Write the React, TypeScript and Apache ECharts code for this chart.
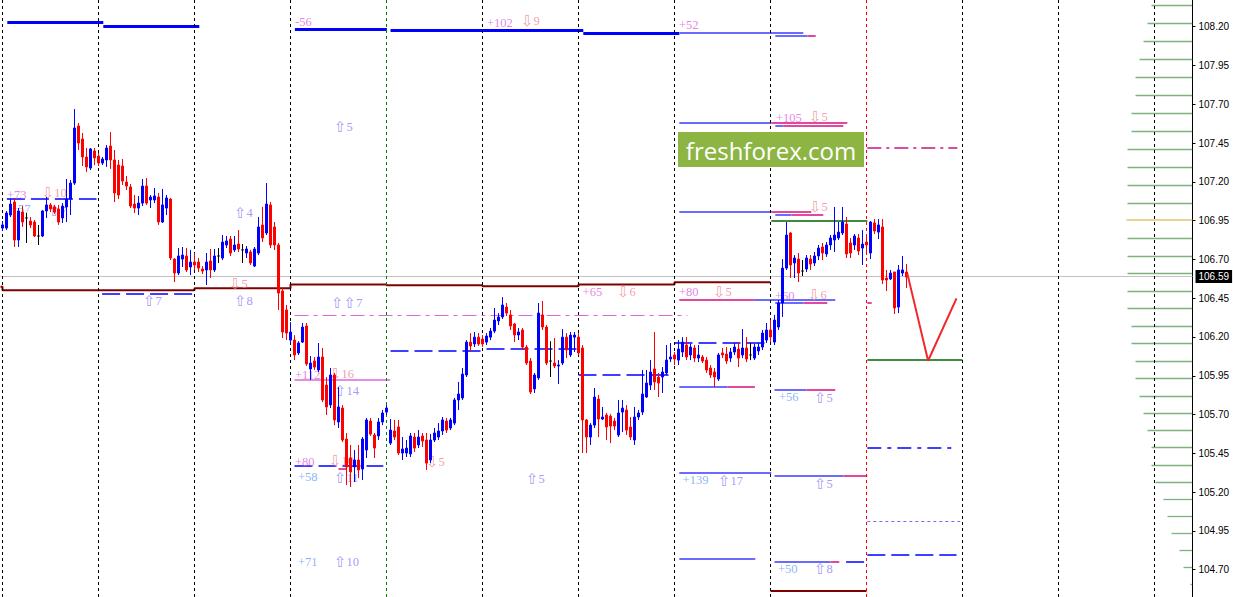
import { useEffect, useRef } from "react";
import * as echarts from "echarts";

// ---------- DATA ----------
const slotCount = 298;
const categories = Array.from({ length: slotCount }, (_, i) => String(i));

const priceTicks = [104.7, 104.95, 105.2, 105.45, 105.7, 105.95, 106.2, 106.45, 106.7, 106.95, 107.2, 107.45, 107.7, 107.95, 108.2];
const yMin = 104.524;
const yMax = 108.372;
const lastPrice = 106.59;

// [open, close, low, high]
const candles = [
  [106.902, 106.922, 106.883, 106.947], [106.902, 106.999, 106.889, 107.012], [106.986, 107.057, 106.973, 107.089], [107.070, 106.825, 106.780, 107.096],
  [106.825, 107.012, 106.780, 107.031], [107.005, 106.941, 106.909, 107.044], [106.967, 106.967, 106.806, 106.999], [106.947, 106.922, 106.902, 106.973],
  [106.941, 106.851, 106.844, 106.954], [106.851, 106.851, 106.793, 106.922], [106.851, 107.012, 106.844, 107.018], [107.012, 107.051, 106.967, 107.102],
  [107.051, 107.025, 107.005, 107.063], [107.038, 107.005, 106.993, 107.051], [107.025, 106.941, 106.922, 107.051], [106.967, 107.044, 106.935, 107.063],
  [107.038, 107.089, 106.941, 107.218], [107.089, 107.192, 106.986, 107.212], [107.192, 107.547, 107.180, 107.669], [107.560, 107.450, 107.405, 107.579],
  [107.476, 107.360, 107.302, 107.515], [107.360, 107.296, 107.263, 107.418], [107.289, 107.412, 107.276, 107.418], [107.399, 107.354, 107.308, 107.418],
  [107.366, 107.321, 107.302, 107.386], [107.321, 107.347, 107.308, 107.360], [107.341, 107.418, 107.296, 107.437], [107.431, 107.341, 107.283, 107.521],
  [107.341, 107.128, 107.070, 107.405], [107.308, 107.115, 107.089, 107.341], [107.302, 107.205, 107.180, 107.347], [107.199, 107.173, 107.147, 107.238],
  [107.167, 107.044, 107.031, 107.186], [107.057, 107.031, 106.999, 107.115], [107.031, 107.063, 106.986, 107.109], [107.063, 107.173, 107.044, 107.218],
  [107.173, 107.063, 107.051, 107.225], [107.083, 107.102, 107.031, 107.115], [107.083, 107.109, 107.063, 107.160], [107.102, 106.941, 106.922, 107.128],
  [106.941, 107.051, 106.935, 107.154], [107.031, 107.096, 106.986, 107.115], [107.089, 106.709, 106.696, 107.096], [106.702, 106.612, 106.554, 106.709],
  [106.612, 106.722, 106.599, 106.773], [106.702, 106.728, 106.651, 106.780], [106.722, 106.632, 106.619, 106.773], [106.651, 106.683, 106.599, 106.761],
  [106.683, 106.664, 106.632, 106.741], [106.683, 106.644, 106.619, 106.709], [106.638, 106.625, 106.606, 106.657], [106.632, 106.683, 106.535, 106.741],
  [106.690, 106.632, 106.580, 106.767], [106.632, 106.722, 106.619, 106.767], [106.722, 106.722, 106.677, 106.773], [106.709, 106.812, 106.696, 106.857],
  [106.793, 106.819, 106.773, 106.851], [106.831, 106.741, 106.722, 106.851], [106.761, 106.793, 106.748, 106.851], [106.799, 106.767, 106.748, 106.889],
  [106.761, 106.761, 106.677, 106.799], [106.741, 106.767, 106.709, 106.786], [106.748, 106.677, 106.664, 106.761], [106.657, 106.767, 106.651, 106.780],
  [106.741, 106.909, 106.728, 106.973], [106.922, 106.838, 106.812, 107.038], [106.870, 107.057, 106.857, 107.192], [107.051, 106.793, 106.773, 107.070],
  [106.909, 106.793, 106.761, 106.941], [106.793, 106.483, 106.374, 106.806], [106.496, 106.232, 106.193, 106.516], [106.374, 106.225, 106.180, 106.406],
  [106.180, 106.232, 106.161, 106.296], [106.180, 106.084, 106.051, 106.212], [106.097, 106.161, 106.084, 106.173], [106.167, 106.264, 106.161, 106.290],
  [106.271, 106.026, 106.013, 106.290], [105.994, 106.032, 105.923, 106.077], [106.045, 106.006, 105.987, 106.071], [105.987, 106.071, 105.974, 106.161],
  [106.071, 105.794, 105.781, 106.129], [105.890, 105.749, 105.697, 105.942], [105.762, 105.955, 105.742, 106.000], [105.955, 105.665, 105.632, 105.968],
  [105.652, 105.749, 105.613, 105.877], [105.742, 105.536, 105.523, 105.761], [105.542, 105.362, 105.246, 105.581], [105.420, 105.330, 105.233, 105.504],
  [105.362, 105.407, 105.265, 105.471], [105.407, 105.343, 105.291, 105.504], [105.349, 105.542, 105.278, 105.555], [105.471, 105.665, 105.420, 105.678],
  [105.658, 105.574, 105.562, 105.678], [105.568, 105.484, 105.420, 105.581], [105.562, 105.652, 105.536, 105.678], [105.652, 105.710, 105.632, 105.729],
  [105.716, 105.742, 105.697, 105.761], [105.516, 105.600, 105.504, 105.671], [105.594, 105.555, 105.536, 105.665], [105.620, 105.452, 105.439, 105.665],
  [105.452, 105.478, 105.407, 105.555], [105.452, 105.484, 105.426, 105.536], [105.446, 105.562, 105.426, 105.581], [105.555, 105.484, 105.459, 105.581],
  [105.504, 105.555, 105.484, 105.600], [105.562, 105.529, 105.491, 105.581], [105.536, 105.387, 105.343, 105.581], [105.407, 105.536, 105.387, 105.575],
  [105.536, 105.581, 105.523, 105.613], [105.555, 105.594, 105.536, 105.645], [105.594, 105.665, 105.568, 105.684], [105.658, 105.600, 105.581, 105.678],
  [105.613, 105.665, 105.600, 105.678], [105.645, 105.794, 105.632, 105.807], [105.794, 105.832, 105.729, 105.910], [105.807, 105.961, 105.794, 106.000],
  [105.955, 106.167, 105.942, 106.180], [106.167, 106.142, 106.103, 106.225], [106.155, 106.199, 106.135, 106.232], [106.199, 106.155, 106.142, 106.225],
  [106.187, 106.155, 106.135, 106.212], [106.167, 106.206, 106.148, 106.225], [106.199, 106.238, 106.180, 106.258], [106.238, 106.309, 106.225, 106.387],
  [106.303, 106.329, 106.277, 106.354], [106.329, 106.406, 106.316, 106.457], [106.393, 106.354, 106.335, 106.419], [106.342, 106.271, 106.245, 106.374],
  [106.284, 106.213, 106.167, 106.290], [106.213, 106.232, 106.180, 106.258], [106.245, 106.135, 106.116, 106.258], [106.135, 106.032, 106.019, 106.148],
  [106.045, 105.845, 105.832, 106.064], [105.865, 105.955, 105.839, 105.968], [105.936, 106.354, 105.923, 106.419], [106.342, 106.264, 106.245, 106.432],
  [106.264, 106.032, 106.019, 106.277], [106.045, 106.045, 105.942, 106.173], [106.032, 106.013, 106.000, 106.193], [106.013, 106.019, 105.897, 106.051],
  [106.032, 106.199, 106.019, 106.251], [106.199, 106.116, 106.064, 106.225], [106.084, 106.212, 106.071, 106.232], [106.199, 106.212, 106.103, 106.232],
  [106.199, 106.097, 106.084, 106.225], [106.129, 105.665, 105.452, 106.148], [105.665, 105.555, 105.452, 105.671], [105.555, 105.632, 105.504, 105.645],
  [105.632, 105.813, 105.613, 105.871], [105.800, 105.671, 105.555, 105.826], [105.671, 105.684, 105.665, 105.749], [105.697, 105.620, 105.536, 105.710],
  [105.690, 105.626, 105.516, 105.703], [105.658, 105.626, 105.600, 105.678], [105.568, 105.710, 105.555, 105.794], [105.716, 105.742, 105.587, 105.794],
  [105.729, 105.600, 105.568, 105.761], [105.620, 105.555, 105.536, 105.684], [105.536, 105.684, 105.504, 105.749], [105.684, 105.710, 105.665, 105.729],
  [105.716, 105.832, 105.697, 105.987], [105.813, 105.903, 105.807, 105.987], [105.890, 105.974, 105.858, 106.051], [105.994, 105.910, 105.858, 106.232],
  [105.942, 105.903, 105.813, 105.968], [105.942, 105.974, 105.839, 106.006], [105.968, 106.051, 105.955, 106.148], [106.058, 106.071, 106.038, 106.161],
  [106.084, 106.058, 106.019, 106.103], [106.051, 106.122, 106.019, 106.180], [106.103, 106.167, 106.071, 106.199], [106.148, 106.071, 106.051, 106.199],
  [106.084, 106.135, 106.051, 106.155], [106.129, 106.064, 106.038, 106.148], [106.064, 106.084, 106.038, 106.148], [106.071, 106.045, 106.032, 106.084],
  [106.051, 105.987, 105.968, 106.071], [106.000, 105.955, 105.936, 106.019], [105.974, 105.942, 105.877, 106.000], [105.929, 106.084, 105.916, 106.097],
  [106.097, 106.084, 106.064, 106.129], [106.090, 106.045, 106.026, 106.135], [106.064, 106.103, 106.038, 106.129], [106.103, 106.135, 106.084, 106.161],
  [106.122, 106.064, 106.006, 106.167], [106.084, 106.129, 106.064, 106.251], [106.129, 106.058, 106.038, 106.199], [106.084, 106.084, 106.051, 106.161],
  [106.064, 106.135, 106.051, 106.155], [106.110, 106.135, 106.084, 106.161], [106.135, 106.225, 106.116, 106.245], [106.180, 106.245, 106.161, 106.290],
  [106.245, 106.200, 106.167, 106.309], [106.167, 106.309, 106.148, 106.342], [106.264, 106.419, 106.245, 106.438], [106.419, 106.644, 106.329, 106.702],
  [106.644, 106.857, 106.632, 106.941], [106.870, 106.664, 106.580, 106.876], [106.677, 106.709, 106.580, 106.728], [106.702, 106.612, 106.554, 106.741],
  [106.625, 106.625, 106.593, 106.696], [106.638, 106.709, 106.619, 106.728], [106.702, 106.670, 106.632, 106.728], [106.677, 106.722, 106.657, 106.748],
  [106.722, 106.773, 106.696, 106.793], [106.780, 106.741, 106.696, 106.806], [106.735, 106.793, 106.716, 106.812], [106.793, 106.838, 106.761, 106.857],
  [106.825, 106.857, 106.748, 107.038], [106.838, 106.876, 106.825, 106.941], [106.870, 106.941, 106.857, 107.038], [106.928, 106.735, 106.709, 106.973],
  [106.806, 106.741, 106.709, 106.838], [106.793, 106.851, 106.761, 106.864], [106.838, 106.754, 106.728, 106.864], [106.773, 106.799, 106.664, 106.889],
  [106.812, 106.793, 106.741, 106.857], [106.741, 106.941, 106.702, 106.947], [106.935, 106.883, 106.864, 106.960], [106.876, 106.922, 106.831, 106.960],
  [106.909, 106.567, 106.541, 106.960], [106.580, 106.567, 106.496, 106.632], [106.574, 106.612, 106.567, 106.632], [106.619, 106.387, 106.348, 106.619],
  [106.393, 106.632, 106.354, 106.664], [106.612, 106.632, 106.593, 106.722], [106.619, 106.586, 106.516, 106.670],
];

const daySeparators = [0, 24, 48, 72, 96, 120, 144, 168, 192, 216, 240, 264, 288];
const greenSeparator = 96;
const redSeparator = 216;

// [startIndex, endIndex, price]
const thickBlueLevels = [[1.2, 25.2, 108.226], [25.2, 49.2, 108.206], [73.1, 96.1, 108.185], [97, 145.2, 108.179], [145.2, 169.2, 108.159]];
const lightBlueLevels = [
  [169.2, 200.2, 108.159], [193.2, 201.3, 108.14], [169.2, 192.2, 107.581], [193.2, 195.2, 107.562],
  [169.2, 192.2, 107.007], [193.2, 197.2, 106.988], [188.1, 208.2, 106.438], [193.2, 200.3, 106.421],
  [169.2, 181.2, 105.879], [193, 201, 105.86], [169.2, 192.2, 105.325], [193, 210.2, 105.306],
  [169.2, 188.2, 104.773], [193, 207, 104.751],
];
const pinkLevels = [
  [201.3, 203.3, 108.14], [192.2, 211.2, 107.581], [195.2, 210.2, 107.562], [192.2, 202.2, 107.007],
  [197.2, 205.2, 106.988], [169.2, 188.1, 106.438], [200.3, 206.2, 106.421], [216.2, 217.3, 106.421],
  [181.2, 188.1, 105.879], [201, 208.2, 105.86], [210.2, 216.2, 105.306], [207, 209.2, 104.751], [84, 86, 105.351],
];
const blueDashedLevels = [
  [1.1, 23.5, 107.089], [24.9, 47.4, 106.477], [73, 95.2, 105.373], [97, 119.5, 106.11], [121, 144, 106.121],
  [144, 168, 105.959], [168, 192, 106.161], [216.2, 238.5, 104.799], [210.9, 215.5, 104.754],
];
const blueDashDotLevels = [[216.2, 238.5, 105.484]];
const violetDashDotLevels = [[73, 171.2, 106.342]];
const violetSolidLevels = [[73, 96.9, 105.923]];
const magentaDashDotLevels = [[216.2, 238.7, 107.422]];
const purpleDottedLevels = [[216.2, 240, 105.014]];
const greenLevels = [[192.2, 216.2, 106.952], [216.2, 240, 106.056]];
const maroonSteps = [[-0.5, 106.524], [0, 106.501], [48, 106.514], [72, 106.539], [96, 106.533], [120, 106.527], [144, 106.539], [168, 106.552], [192, 106.552]];
const maroonLevels = [[192, 216, 104.567]];

const forecastPath = [[226.2, 106.61], [231.4, 106.047], [238.5, 106.449]];

const profilePrices = [108.338, 108.222, 108.106, 107.99, 107.874, 107.758, 107.642, 107.526, 107.41, 107.294, 107.178, 107.062, 106.954, 106.836, 106.72, 106.608, 106.492, 106.387, 106.271, 106.159, 106.043, 105.934, 105.818, 105.708, 105.598, 105.491, 105.375, 105.263, 105.154, 105.044, 104.934, 104.827, 104.715, 104.606];
const profileCounts = [10.25, 11.25, 12.25, 13.25, 14.25, 14.25, 15.25, 15.25, 16.25, 16.25, 16.25, 16.25, 16.5, 16.25, 16.25, 16.25, 16.25, 16.25, 15.25, 15.25, 14.25, 14.25, 13.25, 12.25, 11.25, 10.25, 10.25, 9.25, 7.25, 6.25, 5.25, 3.25, 2.25, 0.5];
const profilePeak = 12;

// [index, price, text]
const violetLabels: [number, number, string][] = [
  [1, 107.118, "+73"], [73, 108.233, "-56"], [121, 108.224, "+102"], [169, 108.208, "+52"], [193.25, 107.611, "+105"],
  [144.9, 106.487, "+65"], [169, 106.49, "+80"], [193, 106.464, "+60"], [73, 105.952, "+112"], [73, 105.397, "+80"],
];
const salmonLabels: [number, number, string][] = [
  [9.7, 107.128, "⇩10"], [129.5, 108.237, "⇩9"], [201.5, 107.618, "⇩5"], [201.5, 107.038, "⇩5"], [56.5, 106.541, "⇩5"],
  [153.5, 106.49, "⇩6"], [177.5, 106.49, "⇩5"], [201.25, 106.47, "⇩6"], [81.5, 105.96, "⇩16"], [81.5, 105.4, "⇩10"], [105.75, 105.394, "⇩5"],
];
const skyLabels: [number, number, string][] = [
  [2, 107.025, "+57"], [73.75, 105.299, "+58"], [73.75, 104.749, "+71"], [169.9, 105.275, "+139"], [194, 105.813, "+56"], [193.75, 104.704, "+50"],
];
const lavenderLabels: [number, number, string][] = [
  [11.25, 107.012, "⇧7"], [57.75, 106.999, "⇧4"], [35, 106.432, "⇧7"], [57.75, 106.432, "⇧8"], [82.75, 107.553, "⇧5"],
  [82, 106.421, "⇧⇧7"], [82.75, 105.85, "⇧14"], [82.75, 105.291, "⇧11"], [130.75, 105.284, "⇧5"],
  [82.75, 104.749, "⇧10"], [178.75, 105.272, "⇧17"], [202.75, 105.807, "⇧5"], [202.75, 105.252, "⇧5"], [202.75, 104.704, "⇧8"],
];

// ---------- CHART ----------
const segs = (list: number[][]) => list.map(([a, b, p]) => ({ coords: [[a, p], [b, p]] }));

const levelSeries = (list: number[][], color: string, width: number, type: any, z = 2) => ({
  type: "lines",
  coordinateSystem: "cartesian2d",
  xAxisIndex: 1,
  yAxisIndex: 0,
  polyline: false,
  silent: true,
  z,
  lineStyle: { color, width, type, opacity: 1 },
  data: segs(list),
});

const serifFont = "'Liberation Serif', 'Times New Roman', serif";

const richText = (t: string) => {
  let i = 0;
  while (i < t.length && (t[i] === "⇩" || t[i] === "⇧")) i++;
  const arrows = t.slice(0, i);
  const rest = t.slice(i);
  return (arrows ? `{a|${arrows}}` : "") + (rest ? `{n|${rest}}` : "");
};

const labelSeries = (list: [number, number, string][], color: string) => ({
  type: "scatter",
  xAxisIndex: 1,
  yAxisIndex: 0,
  symbol: "rect",
  symbolSize: 1,
  silent: true,
  z: 2,
  itemStyle: { color: "rgba(0,0,0,0)" },
  label: {
    show: true,
    position: "right",
    distance: 0,
    formatter: (p: any) => richText(p.name),
    color,
    lineHeight: 12,
    rich: {
      a: { fontFamily: "'DejaVu Sans', sans-serif", fontSize: 15, lineHeight: 12, color },
      n: { fontFamily: serifFont, fontSize: 12.5, lineHeight: 12, color },
    },
  },
  data: list.map(([x, y, t]) => ({ name: t, value: [x, y] })),
});

export default function App() {
  const ref = useRef<HTMLDivElement>(null);

  useEffect(() => {
    if (!ref.current) return;
    const chart = echarts.init(ref.current, undefined, { renderer: "svg" });

    const profileData = profilePrices.map((p, i) => ({
      coords: [[slotCount - 0.5 - profileCounts[i], p], [slotCount - 0.5, p]],
      lineStyle: i === profilePeak ? { color: "#daa520", width: 2 } : { color: "#006400", width: 1.3 },
    }));

    const option: any = {
      animation: false,
      backgroundColor: "#ffffff",
      grid: { left: 0.5, right: 40.5, top: 0, bottom: 0, containLabel: false },
      xAxis: [
        { type: "category", data: categories, boundaryGap: true, show: false, gridIndex: 0 },
        { type: "value", min: -0.5, max: slotCount - 0.5, show: false, gridIndex: 0 },
      ],
      yAxis: [
        {
          type: "value",
          position: "right",
          min: yMin,
          max: yMax,
          splitLine: { show: false },
          axisLine: { show: true, onZero: false, lineStyle: { color: "#000", width: 1 } },
          axisTick: { show: true, length: 3, customValues: priceTicks, lineStyle: { color: "#000" } },
          axisLabel: {
            customValues: priceTicks,
            formatter: (v: number) => v.toFixed(2),
            color: "#000",
            fontSize: 10,
            fontFamily: "'Liberation Sans', Arial, sans-serif",
            margin: 6,
          },
        },
      ],
      graphic: [
        { type: "rect", z: 100, shape: { x: 678, y: 132, width: 186, height: 35 }, style: { fill: "#8db543" } },
        {
          type: "text",
          z: 101,
          x: 771,
          y: 150,
          style: { text: "freshforex.com", fill: "#ffffff", font: "24px 'Open Sans', sans-serif", align: "center", verticalAlign: "middle" },
        },
      ],
      series: [
        // day separators
        {
          type: "line",
          xAxisIndex: 1,
          yAxisIndex: 0,
          data: [],
          z: 1,
          silent: true,
          markLine: {
            silent: true,
            symbol: ["none", "none"],
            label: { show: false },
            data: daySeparators.map((d) => ({
              xAxis: d,
              lineStyle: {
                color: d === greenSeparator ? "#008000" : d === redSeparator ? "#ff0000" : "#000000",
                type: [3, 3],
                width: 1,
              },
            })),
          },
        },
        // current price line
        {
          type: "line",
          xAxisIndex: 1,
          yAxisIndex: 0,
          z: 1,
          silent: true,
          symbol: "none",
          lineStyle: { color: "#c0c0c0", width: 1 },
          data: [[-0.5, lastPrice], [slotCount - 0.5, lastPrice]],
          endLabel: {
            show: true,
            formatter: lastPrice.toFixed(2),
            color: "#ffffff",
            backgroundColor: "#000000",
            padding: [2, 3, 1, 3],
            fontSize: 10,
            fontFamily: "'Liberation Sans', Arial, sans-serif",
            distance: 3,
          },
        },
        levelSeries(thickBlueLevels, "#0000ff", 3, "solid"),
        levelSeries(lightBlueLevels, "#6b6bff", 2, "solid"),
        levelSeries(pinkLevels, "#e3479f", 2, "solid"),
        levelSeries(blueDashedLevels, "#0000ff", 1.5, [18, 6]),
        levelSeries(blueDashDotLevels, "#0000ff", 1.5, [14, 6, 4, 6]),
        levelSeries(violetDashDotLevels, "#dd66dd", 1, [14, 5, 4, 5]),
        levelSeries(violetSolidLevels, "#dd66dd", 1.5, "solid"),
        levelSeries(magentaDashDotLevels, "#c71585", 1.5, [14, 5, 3, 5]),
        levelSeries(purpleDottedLevels, "#7b68ee", 1, [3, 3]),
        levelSeries(greenLevels, "#006400", 1.5, "solid"),
        levelSeries(maroonLevels, "#800000", 2, "solid"),
        {
          type: "line",
          xAxisIndex: 1,
          yAxisIndex: 0,
          step: "end",
          z: 2,
          silent: true,
          symbol: "none",
          lineStyle: { color: "#800000", width: 2 },
          data: maroonSteps,
        },
        {
          type: "lines",
          coordinateSystem: "cartesian2d",
          xAxisIndex: 1,
          yAxisIndex: 0,
          silent: true,
          z: 2,
          data: profileData,
        },
        labelSeries(violetLabels, "#dd66dd"),
        labelSeries(salmonLabels, "#f08590"),
        labelSeries(skyLabels, "#6f9ff5"),
        labelSeries(lavenderLabels, "#8f7ff5"),
        {
          type: "candlestick",
          xAxisIndex: 0,
          yAxisIndex: 0,
          z: 5,
          silent: true,
          barWidth: 2,
          data: candles,
          itemStyle: {
            color: "#0000ff",
            color0: "#ff0000",
            borderColor: "#0000ff",
            borderColor0: "#ff0000",
            borderColorDoji: "#000000",
            borderWidth: 1,
          },
        },
        {
          type: "line",
          xAxisIndex: 1,
          yAxisIndex: 0,
          z: 6,
          silent: true,
          symbol: "none",
          lineStyle: { color: "#f0282d", width: 2 },
          data: forecastPath,
        },
      ],
    };

    chart.setOption(option);
    return () => chart.dispose();
  }, []);

  return (
    <div
      ref={ref}
      style={{ position: "fixed", left: 0, top: 0, width: 1233, height: 597, background: "#ffffff" }}
    />
  );
}
